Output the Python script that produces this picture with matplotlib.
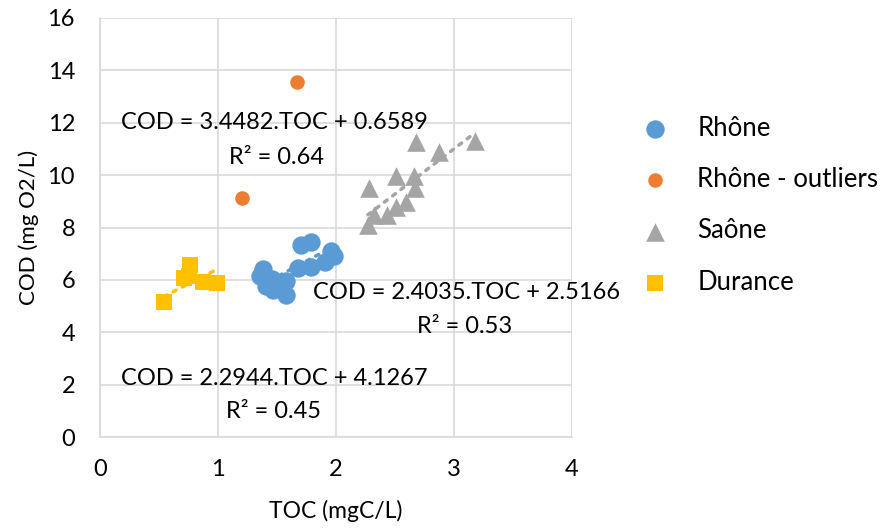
import matplotlib
matplotlib.use("Agg")
import matplotlib.pyplot as plt
import numpy as np

plt.rcParams['font.family'] = ['Lato', 'DejaVu Sans']

# ---- data ----
rhone_toc = [1.70, 1.79, 1.96, 1.98, 1.91, 1.68, 1.79, 1.38, 1.36, 1.46, 1.41, 1.53, 1.58, 1.58, 1.47]
rhone_cod = [7.35, 7.45, 7.10, 6.90, 6.70, 6.45, 6.50, 6.40, 6.15, 6.05, 5.75, 5.80, 5.95, 5.42, 5.60]

out_toc = [1.67, 1.20]
out_cod = [13.55, 9.12]

saone_toc = [2.68, 3.18, 2.87, 2.51, 2.66, 2.28, 2.67, 2.59, 2.51, 2.43, 2.32, 2.27]
saone_cod = [11.25, 11.30, 10.90, 9.95, 9.95, 9.50, 9.50, 8.97, 8.78, 8.47, 8.47, 8.10]

dur_toc = [0.54, 0.76, 0.71, 0.87, 0.99, 0.75]
dur_cod = [5.16, 6.55, 6.07, 5.92, 5.87, 6.15]

series_names = ["Rhône", "Rhône - outliers", "Saône", "Durance"]
colors = ["#5B9BD5", "#ED7D31", "#A5A5A5", "#FFC000"]

# trendline equations (slope, intercept, r2)
rhone_fit = (2.4035, 2.5166, 0.53)
saone_fit = (3.4482, 0.6589, 0.64)
dur_fit = (2.2944, 4.1267, 0.45)

x_ticks = [0, 1, 2, 3, 4]
y_ticks = [0, 2, 4, 6, 8, 10, 12, 14, 16]

# ---- figure ----
fig = plt.figure(figsize=(8.8, 5.31), dpi=100)
ax = fig.add_axes([100/880, 1-437/531, 472/880, 419/531])
ax.set_xlim(0, 4)
ax.set_ylim(0, 16)
ax.set_xticks(x_ticks)
ax.set_yticks(y_ticks)
ax.grid(True, color="#D9D9D9", linewidth=1.2)
ax.set_axisbelow(True)
for s in ["top", "right"]:
    ax.spines[s].set_visible(False)
for s in ["left", "bottom"]:
    ax.spines[s].set_color("#D9D9D9")
    ax.spines[s].set_linewidth(1.2)
ax.tick_params(length=0, labelsize=17, colors="#000000")
ax.tick_params(axis='x', pad=16)
ax.tick_params(axis='y', pad=18)

ax.scatter(rhone_toc, rhone_cod, s=175, marker='o', color=colors[0], label=series_names[0], zorder=3, linewidths=0)
ax.scatter(out_toc, out_cod, s=110, marker='o', color=colors[1], label=series_names[1], zorder=3, linewidths=0)
ax.scatter(saone_toc, saone_cod, s=180, marker='^', color=colors[2], label=series_names[2], zorder=3, linewidths=0)
ax.scatter(dur_toc, dur_cod, s=140, marker='s', color=colors[3], label=series_names[3], zorder=3, linewidths=0)

def trend(xs, fit, color):
    xx = np.array([min(xs), max(xs)])
    ax.plot(xx, fit[0]*xx + fit[1], linestyle=(0, (1, 2)), color=color, linewidth=2.5, zorder=2,
            dash_capstyle='round')

trend(rhone_toc, rhone_fit, colors[0])
trend(saone_toc, saone_fit, colors[2])
trend(dur_toc, dur_fit, colors[3])

def eq_label(px, py, fit, rx, ry):
    x = (px - 100) / 118.0
    y = (437 - py) / 26.2
    ax.text(x, y, f"COD = {fit[0]:.4f}.TOC + {fit[1]:.4f}", fontsize=17, ha='left', va='center', zorder=5)
    ax.text((rx - 100) / 118.0, (437 - ry) / 26.2, f"R² = {fit[2]:.2f}", fontsize=17, ha='center', va='center', zorder=5)

eq_label(121, 122, saone_fit, 276, 157)
eq_label(313, 292, rhone_fit, 465, 326)
eq_label(121, 378, dur_fit, 273, 411)

ax.set_xlabel("TOC (mgC/L)", fontsize=16.5, labelpad=14)
ax.set_ylabel("COD (mg O2/L)", fontsize=16, labelpad=6)

leg = fig.legend(handles=ax.collections, labels=series_names, loc='upper left',
                 bbox_to_anchor=(642/880, 1-116/531), frameon=False, fontsize=18.5,
                 labelspacing=1.02, handlelength=1.0, handletextpad=1.15,
                 borderaxespad=0, borderpad=0, scatterpoints=1)

fig.savefig("out.png", dpi=100)
